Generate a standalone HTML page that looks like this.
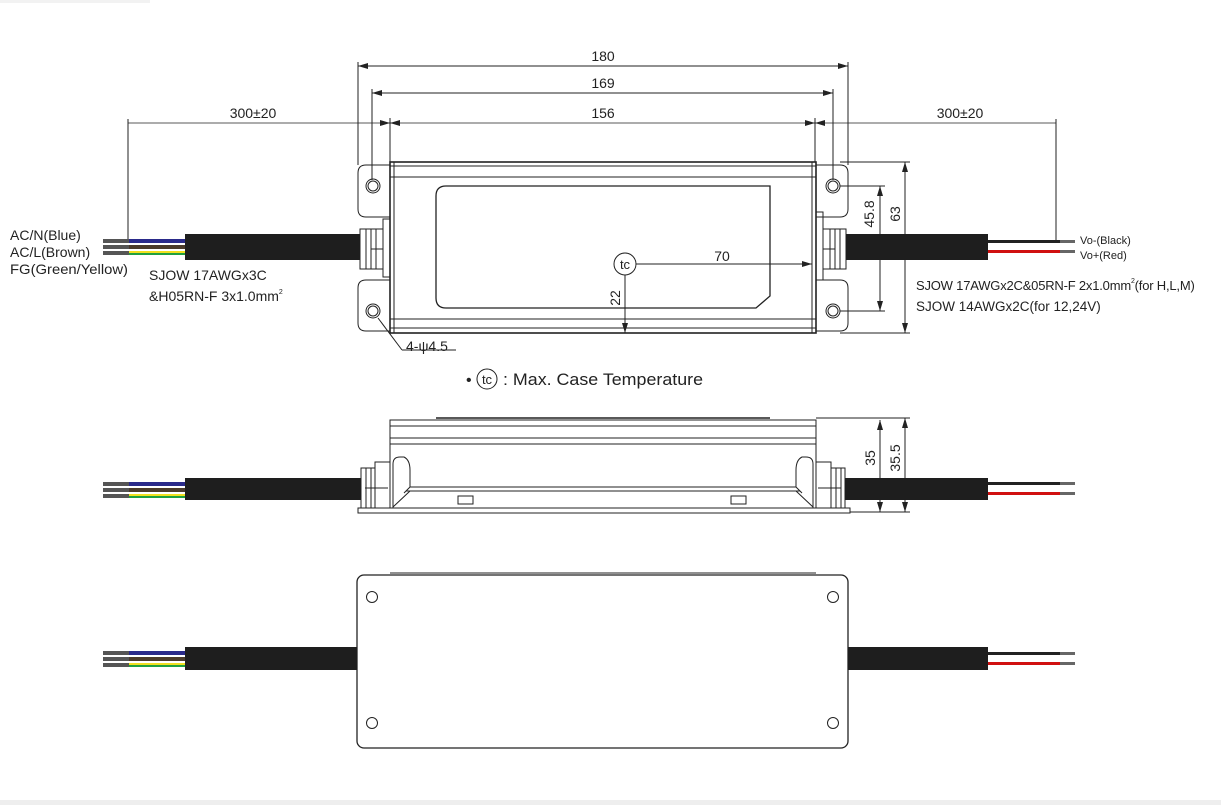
<!DOCTYPE html>
<html><head><meta charset="utf-8"><style>
html,body{margin:0;padding:0;background:#fff;}
svg{display:block;}
text{font-family:"Liberation Sans",Arial,sans-serif;fill:#222;}
</style></head><body>
<svg width="1221" height="805" viewBox="0 0 1221 805" xmlns="http://www.w3.org/2000/svg">
<defs>
<marker id="a" viewBox="0 0 10 6" refX="10" refY="3" markerWidth="10" markerHeight="6" orient="auto-start-reverse" markerUnits="userSpaceOnUse"><path d="M0,0 L10,3 L0,6z" fill="#222"/></marker>
</defs>
<rect x="0" y="0" width="150" height="3" fill="#f2f2f2"/>
<rect x="0" y="800" width="1221" height="5" fill="#eee"/>
<g stroke="#222" stroke-width="1" fill="none">
<line x1="358" y1="62" x2="358" y2="165"/><line x1="848" y1="62" x2="848" y2="165"/>
<line x1="358" y1="66" x2="848" y2="66" marker-start="url(#a)" marker-end="url(#a)"/>
<line x1="372" y1="89" x2="372" y2="180"/><line x1="833" y1="89" x2="833" y2="180"/>
<line x1="372" y1="93" x2="833" y2="93" marker-start="url(#a)" marker-end="url(#a)"/>
<line x1="390" y1="118" x2="390" y2="162"/><line x1="815" y1="118" x2="815" y2="162"/>
<line x1="128" y1="123" x2="1056" y2="123" stroke-width="0.8"/>
<line x1="380" y1="123" x2="390" y2="123" marker-end="url(#a)"/>
<line x1="825" y1="123" x2="815" y2="123" marker-end="url(#a)"/>
<line x1="400" y1="123" x2="390" y2="123" marker-end="url(#a)"/>
<line x1="805" y1="123" x2="815" y2="123" marker-end="url(#a)"/>
<line x1="128" y1="119" x2="128" y2="242"/>
<line x1="1056" y1="119" x2="1056" y2="240"/>
<path d="M366,165 H390 V217 H366 Q358,217 358,209 V173 Q358,165 366,165Z"/>
<path d="M366,280 H390 V331 H366 Q358,331 358,323 V288 Q358,280 366,280Z"/>
<path d="M840,165 H816 V217 H840 Q848,217 848,209 V173 Q848,165 840,165Z"/>
<path d="M840,280 H816 V331 H840 Q848,331 848,323 V288 Q848,280 840,280Z"/>
<rect x="390" y="162" width="426" height="171" stroke-width="1.6"/>
<line x1="390" y1="166" x2="816" y2="166"/>
<line x1="390" y1="177" x2="816" y2="177"/>
<line x1="390" y1="319" x2="816" y2="319"/>
<line x1="390" y1="328" x2="816" y2="328"/>
<line x1="394" y1="162" x2="394" y2="333"/>
<line x1="812" y1="162" x2="812" y2="333"/>
<path d="M446,186 H770 V296 L756,308 H446 Q436,308 436,298 V196 Q436,186 446,186Z" stroke-width="1.3"/>
<circle cx="373" cy="186" r="7"/><circle cx="373" cy="186" r="5"/>
<circle cx="373" cy="311" r="7"/><circle cx="373" cy="311" r="5"/>
<circle cx="833" cy="186" r="7"/><circle cx="833" cy="186" r="5"/>
<circle cx="833" cy="311" r="7"/><circle cx="833" cy="311" r="5"/>
<rect x="383" y="219" width="7" height="58"/>
<rect x="360" y="229" width="23" height="40"/>
<line x1="366" y1="229" x2="366" y2="269"/><line x1="371" y1="229" x2="371" y2="269"/><line x1="376" y1="229" x2="376" y2="269"/>
<line x1="371" y1="249" x2="383" y2="249"/>
<rect x="816" y="212" width="7" height="68"/>
<rect x="823" y="229" width="23" height="40"/>
<line x1="830" y1="229" x2="830" y2="269"/><line x1="835" y1="229" x2="835" y2="269"/><line x1="840" y1="229" x2="840" y2="269"/>
<line x1="823" y1="249" x2="835" y2="249"/>
<line x1="840" y1="162" x2="910" y2="162"/><line x1="840" y1="333" x2="910" y2="333"/>
<line x1="905" y1="162" x2="905" y2="333" marker-start="url(#a)" marker-end="url(#a)"/>
<line x1="840" y1="186" x2="885" y2="186"/><line x1="840" y1="311" x2="885" y2="311"/>
<line x1="880" y1="186" x2="880" y2="311" marker-start="url(#a)" marker-end="url(#a)"/>
<circle cx="625" cy="264" r="11"/>
<line x1="636" y1="264" x2="812" y2="264" marker-end="url(#a)"/>
<line x1="625" y1="275" x2="625" y2="333" marker-end="url(#a)"/>
<line x1="378" y1="318" x2="402" y2="350"/><line x1="402" y1="350" x2="456" y2="350"/>
<circle cx="487" cy="379" r="10"/>
<line x1="436" y1="418" x2="770" y2="418" stroke-width="1.5"/>
<rect x="390" y="420" width="426" height="88"/>
<line x1="390" y1="426" x2="816" y2="426"/>
<line x1="390" y1="438" x2="816" y2="438"/>
<line x1="390" y1="444" x2="816" y2="444"/>
<path d="M393,508 V464 Q393,457 400,457 H404 Q410,460 410,470 V487 L404,493"/>
<path d="M813,508 V464 Q813,457 806,457 H802 Q796,460 796,470 V487 L802,493"/>
<line x1="410" y1="487" x2="796" y2="487"/>
<line x1="406" y1="491" x2="800" y2="491"/>
<line x1="393" y1="507" x2="410" y2="491"/><line x1="813" y1="507" x2="796" y2="491"/>
<rect x="458" y="496" width="15" height="8"/><rect x="731" y="496" width="15" height="8"/>
<rect x="358" y="508" width="492" height="5"/>
<rect x="375" y="462" width="15" height="46"/>
<rect x="361" y="468" width="14" height="40"/>
<line x1="366" y1="468" x2="366" y2="508"/><line x1="371" y1="468" x2="371" y2="508"/>
<line x1="365" y1="488" x2="388" y2="488"/>
<rect x="816" y="462" width="15" height="46"/>
<rect x="831" y="468" width="14" height="40"/>
<line x1="836" y1="468" x2="836" y2="508"/><line x1="841" y1="468" x2="841" y2="508"/>
<line x1="818" y1="488" x2="841" y2="488"/>
<line x1="816" y1="418" x2="910" y2="418"/><line x1="850" y1="512" x2="910" y2="512"/>
<line x1="880" y1="420" x2="880" y2="512" marker-start="url(#a)" marker-end="url(#a)"/>
<line x1="905" y1="418" x2="905" y2="512" marker-start="url(#a)" marker-end="url(#a)"/>
<line x1="390" y1="573" x2="816" y2="573"/>
<line x1="390" y1="748" x2="816" y2="748"/>
<rect x="357" y="575" width="491" height="173" rx="7" stroke-width="1.3"/>
<circle cx="372" cy="597" r="5.5"/><circle cx="833" cy="597" r="5.5"/>
<circle cx="372" cy="723" r="5.5"/><circle cx="833" cy="723" r="5.5"/>
</g>
<g>
<rect x="185" y="234" width="175" height="26" fill="#1e1e1e"/>
<rect x="846" y="234" width="142" height="26" fill="#1e1e1e"/>
<rect x="185" y="478" width="176" height="22" fill="#1e1e1e"/>
<rect x="845" y="478" width="143" height="22" fill="#1e1e1e"/>
<rect x="185" y="647" width="172" height="23" fill="#1e1e1e"/>
<rect x="848" y="647" width="140" height="23" fill="#1e1e1e"/>
</g>
<g id="lw">
<rect x="103" y="239" width="26" height="4" fill="#555"/><rect x="129" y="239" width="56" height="4" fill="#2a2a8a"/>
<rect x="103" y="245" width="26" height="4" fill="#555"/><rect x="129" y="245" width="56" height="4" fill="#4a3a2a"/>
<rect x="103" y="251" width="26" height="4" fill="#555"/><rect x="129" y="251" width="56" height="2" fill="#f0e020"/><rect x="129" y="253" width="56" height="2" fill="#20a040"/>
</g>
<use href="#lw" y="243"/>
<use href="#lw" y="412"/>
<g id="rw">
<rect x="988" y="240" width="72" height="3" fill="#222"/><rect x="1060" y="240" width="15" height="3" fill="#666"/>
<rect x="988" y="250" width="72" height="3" fill="#d01010"/><rect x="1060" y="250" width="15" height="3" fill="#666"/>
</g>
<use href="#rw" y="242"/>
<use href="#rw" y="412"/>
<g font-size="14">
<text x="603" y="61" text-anchor="middle">180</text>
<text x="603" y="88" text-anchor="middle">169</text>
<text x="603" y="118" text-anchor="middle">156</text>
<text x="253" y="118" text-anchor="middle">300±20</text>
<text x="960" y="118" text-anchor="middle">300±20</text>
<text x="10" y="240">AC/N(Blue)</text>
<text x="10" y="257">AC/L(Brown)</text>
<text x="10" y="274" textLength="118" lengthAdjust="spacingAndGlyphs">FG(Green/Yellow)</text>
<text x="149" y="280">SJOW 17AWGx3C</text>
<text x="149" y="301">&amp;H05RN-F 3x1.0mm<tspan font-size="7" dy="-7">2</tspan></text>
<text x="916" y="290" font-size="13" letter-spacing="-0.2">SJOW 17AWGx2C&amp;05RN-F 2x1.0mm<tspan font-size="7" dy="-7">2</tspan><tspan dy="7">(for H,L,M)</tspan></text>
<text x="916" y="311" font-size="13.5">SJOW 14AWGx2C(for 12,24V)</text>
<text x="722" y="261" text-anchor="middle">70</text>
<text x="406" y="351">4-ψ4.5</text>
<text x="503" y="385" font-size="17" textLength="200" lengthAdjust="spacingAndGlyphs">: Max. Case Temperature</text>
<text x="0" y="0" transform="translate(874,214) rotate(-90)" text-anchor="middle">45.8</text>
<text x="0" y="0" transform="translate(900,214) rotate(-90)" text-anchor="middle">63</text>
<text x="0" y="0" transform="translate(620,298) rotate(-90)" text-anchor="middle">22</text>
<text x="0" y="0" transform="translate(875,458) rotate(-90)" text-anchor="middle">35</text>
<text x="0" y="0" transform="translate(900,458) rotate(-90)" text-anchor="middle">35.5</text>
</g>
<text x="625" y="269" font-size="13" text-anchor="middle">tc</text>
<text x="487" y="384" font-size="13" text-anchor="middle">tc</text>
<text x="466" y="385" font-size="16">•</text>
<g font-size="11"><text x="1080" y="244">Vo-(Black)</text><text x="1080" y="259">Vo+(Red)</text></g>
</svg>
</body></html>
